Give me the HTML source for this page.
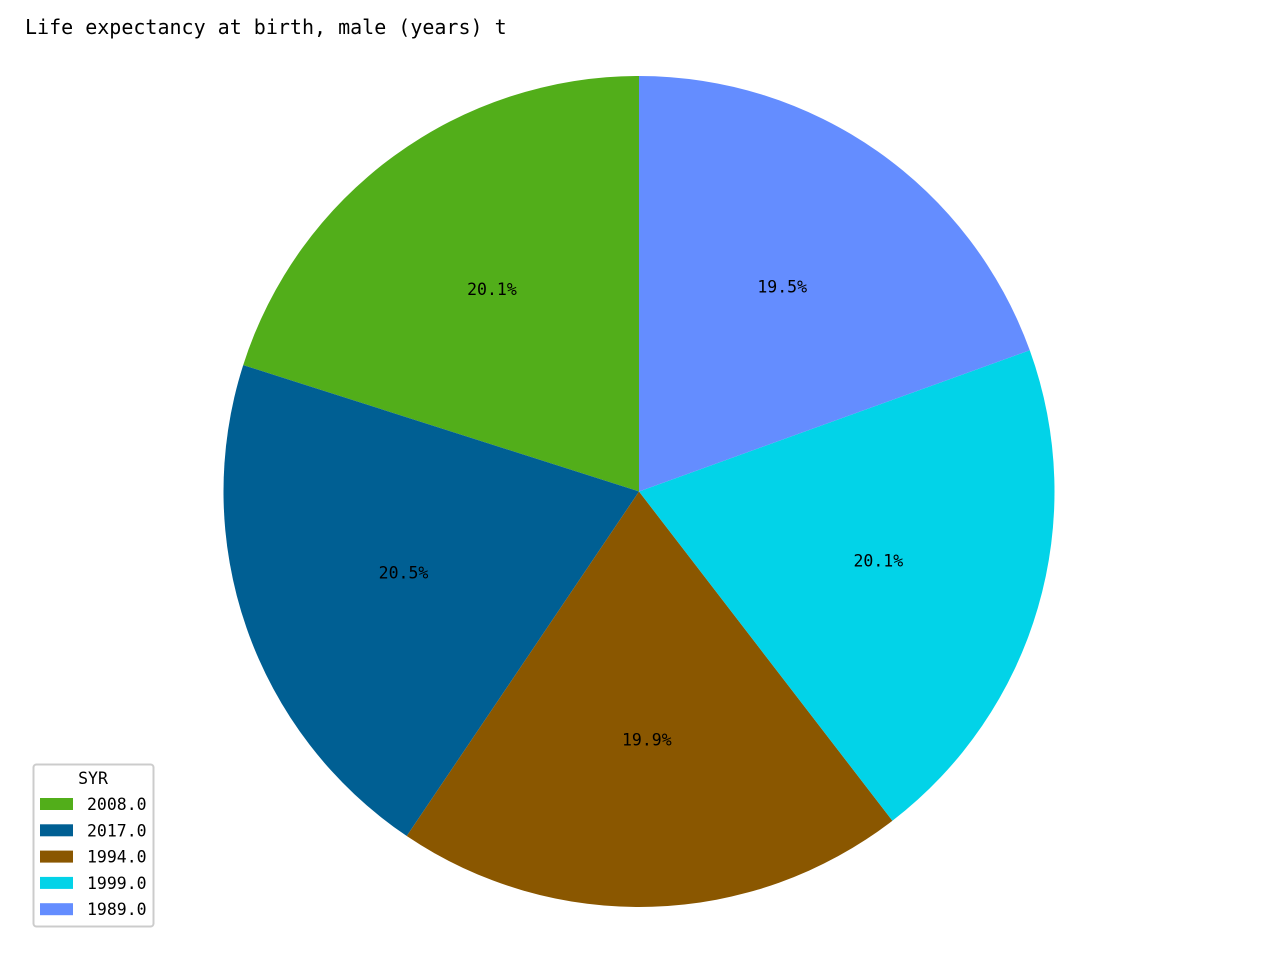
<!DOCTYPE html>
<html><head><meta charset="utf-8"><style>
body{margin:0;background:#fff;}
svg text{font-family:"DejaVu Sans Mono","Liberation Mono",monospace;}
</style></head><body>
<svg id="chart" width="1280" height="960" xmlns="http://www.w3.org/2000/svg">
<rect width="1280" height="960" fill="#fff"/>
<text x="25" y="34" font-size="20" fill="#000">Life expectancy at birth, male (years) t</text>
<g id="slices"></g>
<g id="legend"></g>
</svg>
<script>
const categories = ["2008.0","2017.0","1994.0","1999.0","1989.0"];
const values = [20.1, 20.5, 19.9, 20.1, 19.5];
const colors = ["#52ae1a","#005f93","#8a5700","#02d3e8","#648dff"];
const legendTitle = "SYR";

const NS="http://www.w3.org/2000/svg";
const cx=639, cy=491.5, r=415.5;
const total=values.reduce((a,b)=>a+b,0);
const g=document.getElementById('slices');
let a0=90;
function pt(deg,rad){const t=deg*Math.PI/180;return [cx+rad*Math.cos(t), cy-rad*Math.sin(t)];}
values.forEach((v,i)=>{
  const sweep=v/total*360, a1=a0+sweep;
  const [x0,y0]=pt(a0,r),[x1,y1]=pt(a1,r);
  const p=document.createElementNS(NS,'path');
  p.setAttribute('d',`M${cx},${cy} L${x0},${y0} A${r},${r} 0 ${sweep>180?1:0} 0 ${x1},${y1} Z`);
  p.setAttribute('fill',colors[i]);
  
  
  g.appendChild(p);
  const [lx,ly]=pt((a0+a1)/2,r*0.6);
  const t=document.createElementNS(NS,'text');
  t.setAttribute('x',lx);t.setAttribute('y',ly+5);
  t.setAttribute('text-anchor','middle');t.setAttribute('font-size','16.5');
  t.textContent=(v/total*100).toFixed(1)+'%';
  
  
  g.appendChild(t);
  a0=a1;
});
const L=document.getElementById('legend');
L.innerHTML=`<rect x="33.5" y="764.5" width="120" height="162" rx="3" fill="#fff" stroke="#ccc" stroke-width="2"/>
<text x="93" y="784" text-anchor="middle" font-size="16.5">${legendTitle}</text>`;
categories.forEach((c,i)=>{
  const y=798+i*26.3;
  const rc=document.createElementNS(NS,'rect');
  rc.setAttribute('x',40);rc.setAttribute('y',y);rc.setAttribute('width',33);rc.setAttribute('height',12);
  rc.setAttribute('fill',colors[i]);
  
  
  L.appendChild(rc);
  const t=document.createElementNS(NS,'text');
  t.setAttribute('x',87);t.setAttribute('y',y+12);t.setAttribute('font-size','16.5');
  t.textContent=c;
  
  
  L.appendChild(t);
});
</script>
</body></html>
